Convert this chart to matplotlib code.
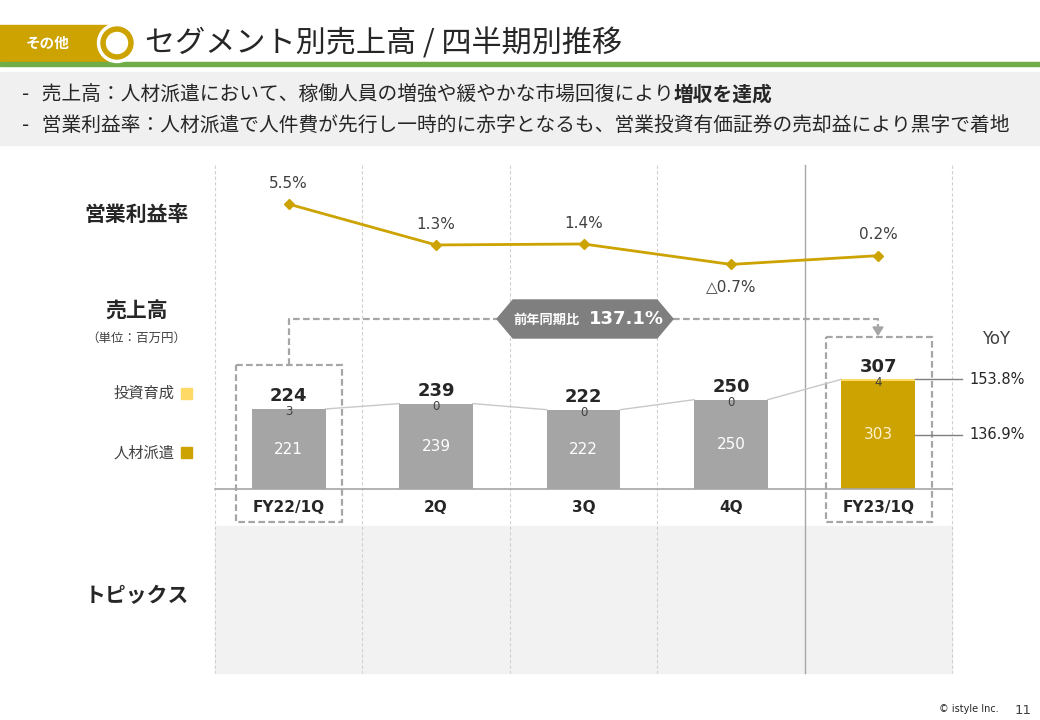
import matplotlib
matplotlib.use("Agg")
import matplotlib.pyplot as plt
from matplotlib.patches import Rectangle, Polygon, Circle
from matplotlib.transforms import blended_transform_factory

plt.rcParams['font.family'] = ['DejaVu Sans', 'Noto Sans CJK JP']

# ---------------- data ----------------
quarters = ["FY22/1Q", "2Q", "3Q", "4Q", "FY23/1Q"]
staffing = [221, 239, 222, 250, 303]          # 人材派遣
investment = [3, 0, 0, 0, 4]                  # 投資育成
op_margin = [5.5, 1.3, 1.4, -0.7, 0.2]        # 営業利益率 (%)
margin_labels = ["5.5%", "1.3%", "1.4%", "△0.7%", "0.2%"]
yoy_labels = ["153.8%", "136.9%"]             # 投資育成, 人材派遣
yoy_total = "137.1%"

W, H = 1040, 720
GOLD = "#cca300"
YELLOW = "#ffd966"
GREY_BAR = "#a5a5a5"
DARK = "#262626"
TXT = "#404040"

fig = plt.figure(figsize=(W / 100, H / 100), dpi=100)
ax0 = fig.add_axes([0, 0, 1, 1])
ax0.set_xlim(0, W)
ax0.set_ylim(H, 0)
ax0.axis("off")


def frac(x0, y0, x1, y1):
    return [x0 / W, 1 - y1 / H, (x1 - x0) / W, (y1 - y0) / H]


CJK = ['Noto Sans CJK JP', 'DejaVu Sans']

# ---------------- header ----------------
ax0.add_patch(Rectangle((0, 25), 108, 36, color=GOLD, zorder=1))
ax0.add_patch(Circle((117, 43), 19.5, color="white", zorder=2))
ax0.add_patch(Circle((117, 43), 16, color=GOLD, zorder=3))
ax0.add_patch(Circle((117, 43), 10.5, color="white", zorder=4))
ax0.text(48, 43, "その他", color="white", fontsize=10.5, fontweight="bold",
         family=CJK, ha="center", va="center")
ax0.text(145, 44, "セグメント別売上高 / 四半期別推移", color=DARK, fontsize=21.7,
         family=CJK, ha="left", va="center")
ax0.add_patch(Rectangle((0, 62), W, 3.5, color="#70ad47", zorder=1))

# bullet box
ax0.add_patch(Rectangle((0, 72), W, 73, color="#f0f0f0", zorder=0))
t1 = ax0.text(22, 95, "-  売上高：人材派遣において、稼働人員の増強や緩やかな市場回復により",
              color=DARK, fontsize=14.2, ha="left", va="center")
ax0.text(22, 125, "-  営業利益率：人材派遣で人件費が先行し一時的に赤字となるも、営業投資有価証券の売却益により黒字で着地",
         color=DARK, fontsize=14.2, ha="left", va="center")
ax0.annotate("増収を達成", xy=(1, 0.5), xycoords=t1, va="center", ha="left",
             color=DARK, fontsize=14.2, fontweight="bold", family=CJK)

# ---------------- grid / background ----------------
x_left, x_right = 215, 952
col_w = (x_right - x_left) / len(quarters)
ax0.add_patch(Rectangle((x_left, 526), x_right - x_left, 147, color="#f2f2f2", zorder=0))
for i in range(len(quarters) + 1):
    xv = x_left + i * col_w
    if i == 4:
        ax0.plot([xv, xv], [165, 673], color="#a6a6a6", lw=1, zorder=1)
    else:
        ax0.plot([xv, xv], [165, 673], color="#d0d0d0", lw=0.8, ls=(0, (3, 2)), zorder=1)

# ---------------- left labels ----------------
ax0.text(137, 214, "営業利益率", fontsize=15, fontweight="bold", color=DARK, family=CJK,
         ha="center", va="center")
ax0.text(137, 311, "売上高", fontsize=15, fontweight="bold", color=DARK, family=CJK,
         ha="center", va="center")
ax0.text(136, 338, "（単位：百万円）", fontsize=9, color=TXT, family=CJK,
         ha="center", va="center")
ax0.text(175, 393, "投資育成", fontsize=11, color=TXT, family=CJK, ha="right", va="center")
ax0.add_patch(Rectangle((181, 388), 11, 11, color=YELLOW))
ax0.text(175, 453, "人材派遣", fontsize=11, color=TXT, family=CJK, ha="right", va="center")
ax0.add_patch(Rectangle((181, 447), 11, 11, color=GOLD))
ax0.text(137, 596, "トピックス", fontsize=15, fontweight="bold", color=DARK, family=CJK,
         ha="center", va="center")

# ---------------- bar chart ----------------
axb = fig.add_axes(frac(x_left, 300, x_right, 489))
axb.set_xlim(-0.5, len(quarters) - 0.5)
axb.set_ylim(0, 529)
axb.axis("off")
axb.patch.set_alpha(0)
idx = list(range(len(quarters)))
totals = [a + b for a, b in zip(staffing, investment)]
c_staff = [GREY_BAR] * 4 + [GOLD]
c_inv = [GREY_BAR] * 4 + [YELLOW]
bw = 0.5
axb.bar(idx, staffing, width=bw, color=c_staff, zorder=3)
axb.bar(idx, investment, bottom=staffing, width=bw, color=c_inv, zorder=3)
axb.plot([-0.5, len(quarters) - 0.5], [0, 0], color="#a6a6a6", lw=1.2, clip_on=False, zorder=4)

for i in idx:
    axb.annotate(str(totals[i]), (i, totals[i]), xytext=(0, 9), textcoords="offset points",
                 ha="center", va="center", fontsize=13, fontweight="bold", color=DARK,
                 annotation_clip=False)
    axb.annotate(str(investment[i]), (i, totals[i]), xytext=(0, -2), textcoords="offset points",
                 ha="center", va="center", fontsize=8.5, color=TXT, annotation_clip=False,
                 zorder=5)
    axb.text(i, staffing[i] / 2, str(staffing[i]), ha="center", va="center", fontsize=11,
             color="white" if i < 4 else "#fff2cc", zorder=5)
    if i < len(quarters) - 1:
        axb.plot([i + bw / 2, i + 1 - bw / 2], [totals[i], totals[i + 1]],
                 color="#c8c8c8", lw=1, zorder=2, clip_on=False)

# category labels
trans = blended_transform_factory(axb.transData, axb.transAxes)
for i, q in enumerate(quarters):
    axb.annotate(q, (i, 0), xycoords=trans, xytext=(0, -13), textcoords="offset points",
                 ha="center", va="center", fontsize=11, fontweight="bold", color=DARK,
                 annotation_clip=False)

# YoY lines
last = len(quarters) - 1
x0l, x1l = last + bw / 2, last + bw / 2 + 0.32
for yv, lab in zip([totals[last], staffing[last] / 2], yoy_labels):
    axb.plot([x0l, x1l], [yv, yv], color="#7f7f7f", lw=1, clip_on=False, zorder=4)
    axb.text(x1l + 0.05, yv, lab, ha="left", va="center", fontsize=10.5, color=DARK,
             clip_on=False)
ax0.text(996, 339, "YoY", fontsize=12, color=TXT, ha="center", va="center")

# dashed highlight boxes and connector
dash_kw = dict(color="#a6a6a6", lw=1.6, ls=(0, (3, 1.5)))
ax0.add_patch(Rectangle((236, 365), 106, 157, fill=False, ec="#a6a6a6", lw=1.6,
                        ls=(0, (3, 1.5)), zorder=5))
ax0.add_patch(Rectangle((826, 337), 106, 185, fill=False, ec="#a6a6a6", lw=1.6,
                        ls=(0, (3, 1.5)), zorder=5))
ax0.plot([289, 289, 497], [365, 319, 319], **dash_kw)
ax0.plot([673, 878, 878], [319, 319, 328], **dash_kw)
ax0.add_patch(Polygon([(873, 327), (883, 327), (878, 335)], color="#a6a6a6", zorder=5))
ax0.add_patch(Polygon([(497, 319), (513, 300), (657, 300), (673, 319), (657, 338), (513, 338)],
                      color="#7f7f7f", zorder=5))
ax0.text(547, 320, "前年同期比", fontsize=9.5, fontweight="bold", color="white", family=CJK,
         ha="center", va="center", zorder=6)
ax0.text(626, 319, yoy_total, fontsize=13, fontweight="bold", color="white",
         ha="center", va="center", zorder=6)

# ---------------- margin line ----------------
axl = fig.add_axes(frac(x_left, 180, x_right, 300))
axl.set_xlim(-0.5, len(quarters) - 0.5)
axl.set_ylim(-4.36, 7.98)
axl.axis("off")
axl.patch.set_alpha(0)
axl.plot(idx, op_margin, color=GOLD, lw=2, marker="D", markersize=5.5, zorder=3)
for i, (v, lab) in enumerate(zip(op_margin, margin_labels)):
    off = -16 if v < 0 else 15
    axl.annotate(lab, (i, v), xytext=(0, off), textcoords="offset points",
                 ha="center", va="center", fontsize=11, color=TXT, annotation_clip=False)

# footer
ax0.text(969, 709, "© istyle Inc.", fontsize=7, color=DARK, ha="center", va="center")
ax0.text(1023, 710, "11", fontsize=9.5, color=TXT, ha="center", va="center")

fig.savefig("out.png", dpi=100)
